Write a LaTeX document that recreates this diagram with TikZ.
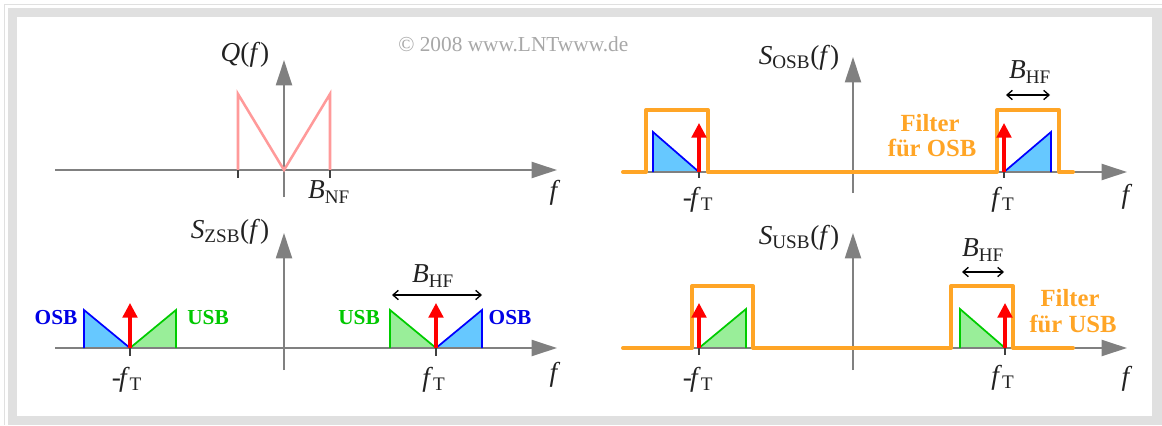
\documentclass[tikz,border=0pt]{standalone}
\usepackage{fontspec}
\setmainfont{Liberation Serif}
\usetikzlibrary{arrows.meta}
\definecolor{axgray}{HTML}{808080}
\definecolor{tickgray}{HTML}{404040}
\definecolor{labcol}{HTML}{222222}
\definecolor{pinkc}{HTML}{FF9A9A}
\definecolor{orangec}{HTML}{FFA526}
\definecolor{blueline}{HTML}{0000FF}
\definecolor{bluefill}{HTML}{66C8FF}
\definecolor{greenline}{HTML}{00CC00}
\definecolor{greenfill}{HTML}{99EE99}
\definecolor{osbtext}{HTML}{0000E6}
\definecolor{usbtext}{HTML}{00C800}
\definecolor{framegray}{HTML}{E0E0E0}
\definecolor{copygray}{HTML}{A8A8A8}
\newcommand{\lsub}[2]{\textit{#1}\textsubscript{\upshape #2}}
\newcommand{\mfT}{-\kern-1.5pt\lsub{f}{T}}
\begin{document}
\begin{tikzpicture}[x=0.75pt,y=-0.75pt,
  axisline/.style={draw=axgray, line width=1.5pt, -{Triangle[length=19pt,width=12pt]}},
  tickline/.style={draw=tickgray, line width=0.9pt},
  carrier/.style={draw=red, line width=2.4pt, -{Triangle[length=11pt,width=11pt]}},
  filt/.style={draw=orangec, line width=3pt, line join=round, line cap=round},
  osbf/.style={fill=bluefill},
  osbl/.style={draw=blueline, line width=1.3pt},
  usbf/.style={fill=greenfill},
  usbl/.style={draw=greenline, line width=1.3pt},
  pinkl/.style={draw=pinkc, line width=1.9pt},
  lbl/.style={font=\fontsize{20.5}{24}\selectfont, text=labcol, inner sep=0pt},
  sblO/.style={font=\bfseries\fontsize{16}{19}\selectfont, text=osbtext, inner sep=0pt},
  sblU/.style={font=\bfseries\fontsize{16}{19}\selectfont, text=usbtext, inner sep=0pt},
  filtlbl/.style={font=\bfseries\fontsize{18.5}{21}\selectfont, text=orangec, inner sep=0pt},
  bw/.style={draw=black, line width=1pt, {Straight Barb[length=4pt,width=7pt]}-{Straight Barb[length=4pt,width=7pt]}}
]
\useasboundingbox (0,0) rectangle (1162,425);
% frame
\fill[white] (0,0) rectangle (1162,425);
\fill[framegray] (8,8) rectangle (1162,425);
\fill[white] (17,17) rectangle (1152,416);
\draw[framegray, line width=0.75pt] (4.5,425) -- (4.5,4.5) -- (1162,4.5);

% copyright
\node[anchor=west, inner sep=0pt, text=copygray, font=\fontsize{16}{19}\selectfont] (copy) at (398,44) {© 2008 www.LNTwww.de};

%================ top-left: Q(f)
\coordinate (qL) at (55,170); \coordinate (qR) at (557,170);
\coordinate (qB) at (284,197); \coordinate (qT) at (284,60);
\draw[axisline] (qL) -- (qR);
\draw[axisline] (qB) -- (qT);
\draw[pinkl, line join=miter] (238,170) -- (238,94) -- (284,170) -- (330,94) -- (330,170);
\draw[tickline] (238,170) -- (238,178);
\draw[tickline] (330,170) -- (330,178);
\node[lbl] (qlab) at (245,55) {\textit{Q}(\textit{f})};
\node[lbl] (bnf) at (329,192) {\lsub{B}{NF}};
\node[lbl] (qf) at (555,193) {\textit{f}};

%================ top-right: S_OSB(f)
\coordinate (oL) at (623,172); \coordinate (oR) at (1127,172);
\coordinate (oB) at (853,193); \coordinate (oT) at (853,57);
\fill[osbf] (653,172) -- (653,132) -- (699,172) -- cycle;
\fill[osbf] (1004,172) -- (1051,132) -- (1051,172) -- cycle;
\draw[axisline] (oL) -- (oR);
\draw[axisline] (oB) -- (oT);
\draw[osbl] (653,172) -- (653,132) -- (699,172);
\draw[osbl] (1004,172) -- (1051,132) -- (1051,172);
\draw[filt] (623,172) -- (646,172) -- (646,110) -- (708,110) -- (708,172) -- (997,172) -- (997,110) -- (1059,110) -- (1059,172) -- (1073,172);
\coordinate (oc1) at (699,172); \coordinate (oc1t) at (699,123);
\coordinate (oc2) at (1004,172); \coordinate (oc2t) at (1004,123);
\draw[carrier] (oc1) -- (oc1t);
\draw[carrier] (oc2) -- (oc2t);
\draw[tickline] (699,172) -- (699,178);
\draw[tickline] (1004,172) -- (1004,178);
\coordinate (obw1) at (1006,95); \coordinate (obw2) at (1050,95);
\draw[bw] (obw1) -- (obw2);
\node[lbl] (osblab) at (799,58) {\lsub{S}{OSB}(\textit{f})};
\node[lbl] (obhf) at (1030,72) {\lsub{B}{HF}};
\node[lbl] (ofm) at (698,200) {\mfT};
\node[lbl] (ofp) at (1003,200) {\lsub{f}{T}};
\node[lbl] (of) at (1127,197) {\textit{f}};
\node[filtlbl] (ofilt1) at (930,123) {Filter};
\node[filtlbl] (ofilt2) at (932,148) {für OSB};

%================ bottom-left: S_ZSB(f)
\coordinate (zL) at (55,348); \coordinate (zR) at (557,348);
\coordinate (zB) at (284,370); \coordinate (zT) at (284,233);
\fill[osbf] (84,348) -- (84,310) -- (130,348) -- cycle;
\fill[usbf] (130,348) -- (176,310) -- (176,348) -- cycle;
\fill[usbf] (390,348) -- (390,310) -- (436,348) -- cycle;
\fill[osbf] (436,348) -- (482,310) -- (482,348) -- cycle;
\draw[axisline] (zL) -- (zR);
\draw[axisline] (zB) -- (zT);
\draw[osbl] (84,348) -- (84,310) -- (130,348);
\draw[usbl] (130,348) -- (176,310) -- (176,348);
\draw[usbl] (390,348) -- (390,310) -- (436,348);
\draw[osbl] (436,348) -- (482,310) -- (482,348);
\coordinate (zc1) at (130,348); \coordinate (zc1t) at (130,303);
\coordinate (zc2) at (436,348); \coordinate (zc2t) at (436,303);
\draw[carrier] (zc1) -- (zc1t);
\draw[carrier] (zc2) -- (zc2t);
\draw[tickline] (130,348) -- (130,356);
\draw[tickline] (436,348) -- (436,356);
\coordinate (zbw1) at (392,295); \coordinate (zbw2) at (482,295);
\draw[bw] (zbw1) -- (zbw2);
\node[lbl] (zsblab) at (230,232) {\lsub{S}{ZSB}(\textit{f})};
\node[lbl] (zbhf) at (433,276) {\lsub{B}{HF}};
\node[lbl] (zfm) at (127,380) {\mfT};
\node[lbl] (zfp) at (434,380) {\lsub{f}{T}};
\node[lbl] (zf) at (555,375) {\textit{f}};
\node[sblO] (zo1) at (56,318) {OSB};
\node[sblU] (zu1) at (208,318) {USB};
\node[sblU] (zu2) at (359,318) {USB};
\node[sblO] (zo2) at (510,318) {OSB};

%================ bottom-right: S_USB(f)
\coordinate (uL) at (623,348); \coordinate (uR) at (1127,348);
\coordinate (uB) at (853,370); \coordinate (uT) at (853,233);
\fill[usbf] (699,348) -- (746,309) -- (746,348) -- cycle;
\fill[usbf] (960,348) -- (960,309) -- (1005,348) -- cycle;
\draw[axisline] (uL) -- (uR);
\draw[axisline] (uB) -- (uT);
\draw[usbl] (699,348) -- (746,309) -- (746,348);
\draw[usbl] (960,348) -- (960,309) -- (1005,348);
\draw[filt] (623,348) -- (692,348) -- (692,286) -- (753,286) -- (753,348) -- (951,348) -- (951,286) -- (1013,286) -- (1013,348) -- (1073,348);
\coordinate (uc1) at (699,348); \coordinate (uc1t) at (699,303);
\coordinate (uc2) at (1005,348); \coordinate (uc2t) at (1005,303);
\draw[carrier] (uc1) -- (uc1t);
\draw[carrier] (uc2) -- (uc2t);
\draw[tickline] (699,348) -- (699,355);
\draw[tickline] (1005,348) -- (1005,355);
\coordinate (ubw1) at (962,272); \coordinate (ubw2) at (1004,272);
\draw[bw] (ubw1) -- (ubw2);
\node[lbl] (usblab) at (799,238) {\lsub{S}{USB}(\textit{f})};
\node[lbl] (ubhf) at (983,250) {\lsub{B}{HF}};
\node[lbl] (ufm) at (698,380) {\mfT};
\node[lbl] (ufp) at (1003,378) {\lsub{f}{T}};
\node[lbl] (uf) at (1127,379) {\textit{f}};
\node[filtlbl] (ufilt1) at (1070,298) {Filter};
\node[filtlbl] (ufilt2) at (1073,324) {für USB};
\end{tikzpicture}
\end{document}
